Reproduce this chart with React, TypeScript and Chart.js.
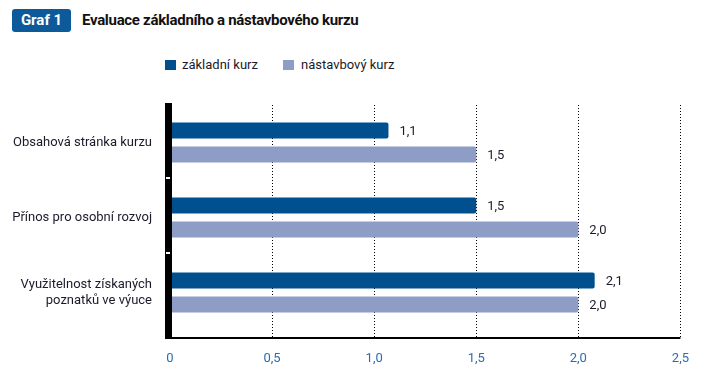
import React, { useEffect, useRef } from "react";
import { Chart, registerables } from "chart.js";

Chart.register(...registerables);

const categories: (string | string[])[] = [
  "Obsahová stránka kurzu",
  "Přínos pro osobní rozvoj",
  ["Využitelnost získaných", "poznatků ve výuce"],
];
const seriesNames = ["základní kurz", "nástavbový kurz"];
const basicValues = [1.07, 1.5, 2.08];
const advancedValues = [1.5, 2.0, 2.0];
const xTicks = [0, 0.5, 1.0, 1.5, 2.0, 2.5];

const DARK = "#00508f";
const LIGHT = "#8e9dc5";
const FONT = "Roboto, 'Noto Sans', sans-serif";

const fmt = (v: number) => v.toFixed(1).replace(".", ",");

const decorPlugin = {
  id: "decor",
  afterDraw(chart: any) {
    const { ctx, chartArea, scales } = chart;
    const { left, right, top, bottom } = chartArea;
    ctx.save();
    // bottom axis line
    ctx.fillStyle = "#000";
    ctx.fillRect(left, bottom + 7, right - left, 2);
    // thick category axis bar
    ctx.fillRect(left - 5, top - 2, 7, bottom - top + 11);
    // white separators between categories
    const y = scales.y;
    ctx.fillStyle = "#fff";
    for (let i = 0; i < categories.length - 1; i++) {
      const yc = (y.getPixelForValue(i) + y.getPixelForValue(i + 1)) / 2;
      ctx.fillRect(left - 4, Math.round(yc) - 3, 4, 2);
    }
    // value labels
    ctx.font = `13px ${FONT}`;
    ctx.fillStyle = "#1a1a2a";
    ctx.textAlign = "left";
    ctx.textBaseline = "middle";
    chart.data.datasets.forEach((ds: any, di: number) => {
      const meta = chart.getDatasetMeta(di);
      meta.data.forEach((bar: any, i: number) => {
        ctx.fillText(fmt(ds.data[i]), bar.x + 11, bar.y + 1);
      });
    });
    ctx.restore();
  },
};

export default function App() {
  const ref = useRef<HTMLCanvasElement>(null);
  useEffect(() => {
    if (!ref.current) return;
    const chart = new Chart(ref.current, {
      type: "bar",
      data: {
        labels: categories as any,
        datasets: [
          {
            label: seriesNames[0],
            data: basicValues,
            backgroundColor: DARK,
            borderRadius: 2,
            borderSkipped: "start",
            categoryPercentage: 0.64,
            barPercentage: 0.667,
          },
          {
            label: seriesNames[1],
            data: advancedValues,
            backgroundColor: LIGHT,
            borderRadius: 2,
            borderSkipped: "start",
            categoryPercentage: 0.64,
            barPercentage: 0.667,
          },
        ],
      },
      options: {
        indexAxis: "y",
        animation: false,
        responsive: true,
        maintainAspectRatio: false,
        layout: { padding: { top: 97, right: 19, left: 0, bottom: 0 } },
        plugins: {
          legend: { display: false },
          tooltip: { enabled: false },
          title: { display: false },
        },
        scales: {
          x: {
            min: 0,
            max: 2.5,
            afterBuildTicks: (s: any) => {
              s.ticks = xTicks.map((v) => ({ value: v }));
            },
            afterFit: (s: any) => {
              s.height = 43;
            },
            ticks: {
              callback: (v: any) => (Number(v) === 0 ? "0" : fmt(Number(v))),
              color: "#2a6db5",
              font: { family: FONT, size: 13 },
              padding: 13,
              maxRotation: 0,
            },
            grid: {
              display: true,
              color: "#000",
              lineWidth: 1,
              tickLength: 8,
              drawTicks: true,
              tickBorderDash: [1, 2],
            },
            border: { display: false, dash: [1, 2] },
          },
          y: {
            afterFit: (s: any) => {
              s.width = 162;
            },
            ticks: {
              color: "#1a1a2a",
              font: { family: FONT, size: 13 },
              padding: 10,
            },
            grid: { display: false },
            border: { display: false },
          },
        },
      },
      plugins: [decorPlugin],
    });
    return () => chart.destroy();
  }, []);

  return (
    <div style={{ position: "relative", width: 694, height: 365, fontFamily: FONT }}>
      <div
        style={{
          position: "absolute",
          left: 4,
          top: 1,
          width: 59,
          height: 23,
          background: "#0d5a9a",
          borderRadius: 3,
          color: "#fff",
          fontWeight: 700,
          fontSize: 15,
          lineHeight: "23px",
          textAlign: "center",
        }}
      >
        Graf 1
      </div>
      <div
        style={{
          position: "absolute",
          left: 74,
          top: 1,
          height: 23,
          lineHeight: "23px",
          fontWeight: 700,
          fontSize: 15,
          color: "#111",
          letterSpacing: -0.3,
        }}
      >
        Evaluace základního a nástavbového kurzu
      </div>
      <div
        style={{
          position: "absolute",
          left: 157,
          top: 49,
          display: "flex",
          alignItems: "center",
          fontSize: 13,
          color: "#1a1a2a",
        }}
      >
        <span style={{ width: 11, height: 10, background: DARK, display: "inline-block" }} />
        <span style={{ marginLeft: 6, width: 101 }}>{seriesNames[0]}</span>
        <span style={{ width: 11, height: 10, background: LIGHT, display: "inline-block" }} />
        <span style={{ marginLeft: 7 }}>{seriesNames[1]}</span>
      </div>
      <canvas ref={ref} style={{ position: "absolute", left: 0, top: 0 }} />
    </div>
  );
}
